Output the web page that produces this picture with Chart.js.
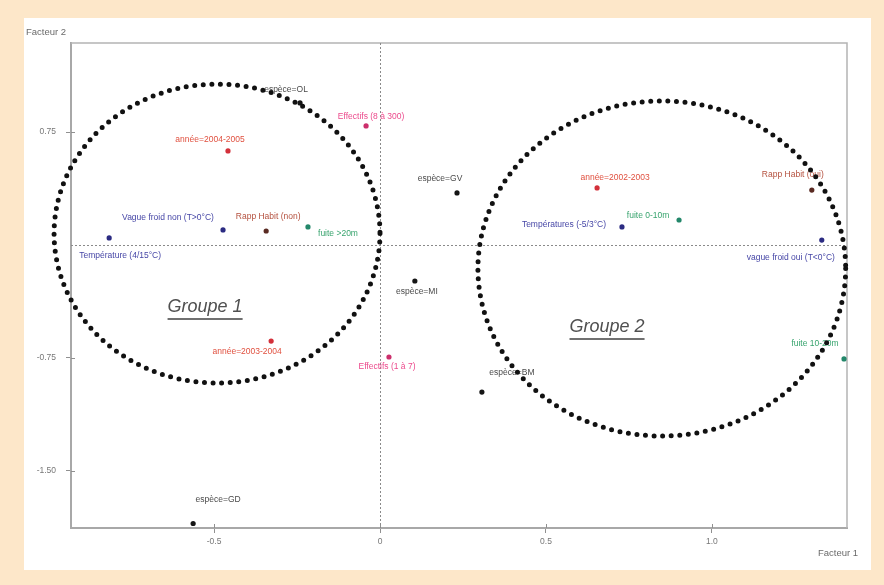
<!DOCTYPE html>
<html>
<head>
<meta charset="utf-8">
<script src="https://cdn.jsdelivr.net/npm/chart.js@4.4.1/dist/chart.umd.min.js"></script>
<style>
  html, body { margin: 0; padding: 0; background: #fde7c9; }
  #wrap { position: absolute; left: 0; top: 0; width: 884px; height: 585px; }
</style>
</head>
<body>
<div id="wrap"><canvas id="c" width="884" height="585"></canvas></div>
<script>
// Modalities of the correspondence analysis (coordinates on factors 1 and 2)
const modalities = [
  'année=2004-2005', 'Effectifs (8 à 300)', 'espèce=OL', 'espèce=GV',
  'Vague froid non (T>0°C)', 'Rapp Habit (non)', 'fuite >20m', 'Température (4/15°C)',
  'année=2002-2003', 'Rapp Habit (oui)', 'fuite 0-10m', 'Températures (-5/3°C)',
  'vague froid oui (T<0°C)', 'espèce=MI', 'année=2003-2004', 'Effectifs (1 à 7)',
  'espèce=BM', 'fuite 10-20m', 'espèce=GD'
];
const factor1 = [
  -0.458, -0.042, -0.241, 0.232,
  -0.473, -0.343, -0.217, -0.816,
  0.654, 1.301, 0.901, 0.729,
  1.331, 0.105, -0.328, 0.027,
  0.307, 1.398, -0.563
];
const factor2 = [
  0.625, 0.791, 0.944, 0.346,
  0.100, 0.093, 0.120, 0.047,
  0.379, 0.365, 0.166, 0.120,
  0.033, -0.239, -0.638, -0.744,
  -0.977, -0.757, -1.850
];
const variable = [
  'annee', 'effectif', 'espece', 'espece',
  'temp', 'habit', 'fuite', 'temp',
  'annee', 'habit', 'fuite', 'temp',
  'temp', 'espece', 'annee', 'effectif',
  'espece', 'fuite', 'espece'
];

// Axis ticks
const xTicks = [-0.5, 0, 0.5, 1.0];
const xTickLabels = ['-0.5', '0', '0.5', '1.0'];
const yTicks = [0.75, -0.75, -1.5];
const yTickLabels = ['0.75', '-0.75', '-1.50'];

// Two groups outlined on the factorial plane (centre and semi-axes, in factor units)
const groupNames = ['Groupe 1', 'Groupe 2'];
const groupCx = [-0.491, 0.849];
const groupCy = [0.076, -0.156];
const groupRx = [0.491, 0.554];
const groupRy = [0.993, 1.113];
const groupTextX = [-0.527, 0.684];
const groupTextY = [-0.412, -0.545];

// Label placement relative to each point, in pixels
const labelOffset = [
  [-18, -11], [5, -9], [-14, -13], [-17, -14],
  [-55, -12], [2, -14], [30, 7], [11, 18],
  [18, -10], [-19, -15], [-31, -4], [-58, -2],
  [-31, 18], [2, 11], [-24, 11], [-2, 10],
  [30, -19], [-29, -15], [25, -24]
];

const style = {
  annee:    { point: '#d3303a', text: '#e0503f' },
  effectif: { point: '#cc2f6c', text: '#ec4a8c' },
  espece:   { point: '#151515', text: '#4a4a4a' },
  temp:     { point: '#2b2b82', text: '#4646a6' },
  habit:    { point: '#5a2a22', text: '#b4503e' },
  fuite:    { point: '#23876a', text: '#38a46e' }
};

const kinds = ['annee', 'effectif', 'espece', 'temp', 'habit', 'fuite'];
const datasets = kinds.map(k => {
  const idx = modalities.map((_, i) => i).filter(i => variable[i] === k);
  return {
    label: k,
    data: idx.map(i => ({ x: factor1[i], y: factor2[i], name: modalities[i], off: labelOffset[i] })),
    backgroundColor: style[k].point,
    borderColor: style[k].point,
    pointRadius: 2.6,
    pointHoverRadius: 2.6,
    borderWidth: 0,
    textColor: style[k].text
  };
});

const LABEL_FONT = '8.5px "Liberation Sans", Arial, sans-serif';

const decor = {
  id: 'decor',
  beforeDraw(chart) {
    const ctx = chart.ctx;
    ctx.save();
    ctx.fillStyle = '#fde7c9';
    ctx.fillRect(0, 0, chart.width, chart.height);
    ctx.fillStyle = '#ffffff';
    ctx.fillRect(24, 18, 847, 552);
    ctx.restore();
  },
  beforeDatasetsDraw(chart) {
    const { ctx, chartArea: a, scales: { x, y } } = chart;
    ctx.save();
    // frame top and right
    ctx.strokeStyle = '#b4b4b4';
    ctx.lineWidth = 1.5;
    ctx.beginPath();
    ctx.moveTo(a.left, a.top); ctx.lineTo(a.right, a.top); ctx.lineTo(a.right, a.bottom);
    ctx.stroke();
    // tick marks reaching inside the frame
    ctx.strokeStyle = '#909090';
    ctx.lineWidth = 1;
    ctx.beginPath();
    xTicks.forEach(v => {
      const px = Math.round(x.getPixelForValue(v)) + 0.5;
      ctx.moveTo(px, a.bottom); ctx.lineTo(px, a.bottom - 4);
    });
    yTicks.forEach(v => {
      const py = Math.round(y.getPixelForValue(v)) + 0.5;
      ctx.moveTo(a.left, py); ctx.lineTo(a.left + 4, py);
    });
    ctx.stroke();
    // zero lines
    ctx.strokeStyle = '#8a8a8a';
    ctx.lineWidth = 1;
    ctx.setLineDash([2, 2]);
    const x0 = Math.round(x.getPixelForValue(0)) + 0.5;
    const y0 = Math.round(y.getPixelForValue(0)) + 0.5;
    ctx.beginPath();
    ctx.moveTo(x0, a.top); ctx.lineTo(x0, a.bottom);
    ctx.moveTo(a.left, y0); ctx.lineTo(a.right, y0);
    ctx.stroke();
    ctx.restore();
  },
  afterDatasetsDraw(chart) {
    const { ctx, scales: { x, y } } = chart;
    ctx.save();
    // modality labels
    ctx.font = LABEL_FONT;
    ctx.textAlign = 'center';
    ctx.textBaseline = 'middle';
    chart.data.datasets.forEach((ds, di) => {
      const meta = chart.getDatasetMeta(di);
      meta.data.forEach((el, j) => {
        const d = ds.data[j];
        ctx.fillStyle = ds.textColor;
        ctx.fillText(d.name, el.x + d.off[0], el.y + d.off[1]);
      });
    });
    // dotted group outlines
    ctx.strokeStyle = '#111111';
    ctx.lineWidth = 5;
    ctx.lineCap = 'round';
    ctx.setLineDash([0, 8.6]);
    for (let g = 0; g < groupNames.length; g++) {
      const cx = x.getPixelForValue(groupCx[g]);
      const cy = y.getPixelForValue(groupCy[g]);
      const rx = Math.abs(x.getPixelForValue(groupCx[g] + groupRx[g]) - cx);
      const ry = Math.abs(y.getPixelForValue(groupCy[g] + groupRy[g]) - cy);
      ctx.beginPath();
      ctx.ellipse(cx, cy, rx, ry, 0, 0, Math.PI * 2);
      ctx.stroke();
    }
    ctx.setLineDash([]);
    // group names, underlined
    ctx.font = 'italic 18px "Liberation Sans", Arial, sans-serif';
    ctx.fillStyle = '#505050';
    for (let g = 0; g < groupNames.length; g++) {
      const tx = x.getPixelForValue(groupTextX[g]);
      const ty = y.getPixelForValue(groupTextY[g]);
      ctx.fillText(groupNames[g], tx, ty);
      const w = ctx.measureText(groupNames[g]).width;
      ctx.strokeStyle = '#707070';
      ctx.lineWidth = 2;
      ctx.lineCap = 'butt';
      ctx.beginPath();
      ctx.moveTo(tx - w / 2, ty + 12); ctx.lineTo(tx + w / 2, ty + 12);
      ctx.stroke();
    }
    // axis titles
    ctx.font = '9.5px "Liberation Sans", Arial, sans-serif';
    ctx.fillStyle = '#6a6a6a';
    ctx.textAlign = 'left';
    ctx.fillText('Facteur 2', 26, 32);
    ctx.fillText('Facteur 1', 818, 553);
    ctx.restore();
  }
};

new Chart(document.getElementById('c'), {
  type: 'scatter',
  data: { datasets },
  plugins: [decor],
  options: {
    responsive: false,
    animation: false,
    layout: { padding: { left: 24, top: 43, right: 37, bottom: 0 } },
    plugins: { legend: { display: false }, tooltip: { enabled: false } },
    scales: {
      x: {
        type: 'linear', min: -0.931, max: 1.407,
        afterBuildTicks: s => { s.ticks = xTicks.map(v => ({ value: v })); },
        afterFit: s => { s.height = 57; },
        ticks: {
          color: '#777', padding: 4,
          font: { size: 8.5, family: '"Liberation Sans", Arial, sans-serif' },
          callback: v => xTickLabels[xTicks.indexOf(v)]
        },
        grid: { drawOnChartArea: false, drawTicks: true, tickLength: 5, color: '#909090' },
        border: { display: true, color: '#a8a8a8', width: 2 }
      },
      y: {
        type: 'linear', min: -1.880, max: 1.342,
        afterBuildTicks: s => { s.ticks = yTicks.map(v => ({ value: v })); },
        afterFit: s => { s.width = 47; },
        ticks: {
          color: '#777', padding: 10,
          font: { size: 8.5, family: '"Liberation Sans", Arial, sans-serif' },
          callback: v => yTickLabels[yTicks.indexOf(v)]
        },
        grid: { drawOnChartArea: false, drawTicks: true, tickLength: 5, color: '#909090' },
        border: { display: true, color: '#a8a8a8', width: 2 }
      }
    }
  }
});
</script>
</body>
</html>
